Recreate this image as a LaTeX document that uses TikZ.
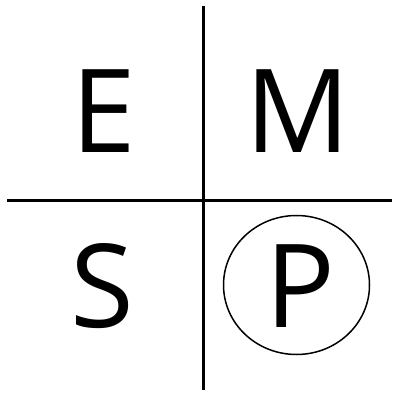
\documentclass[tikz,border=0pt]{standalone}
\usepackage{fontspec}
\setmainfont{Open Sans}
\usetikzlibrary{shapes.geometric}
\begin{document}
\begin{tikzpicture}[x=1pt,y=-1pt,
  letter/.style={inner sep=0pt, text depth=0pt, font=\fontsize{116}{116}\selectfont},
  divider/.style={line width=3pt, black}]
\useasboundingbox (0,0) rectangle (392,393);
\fill[white] (0,0) rectangle (392,393);
\coordinate (vt) at (203,6);
\coordinate (vb) at (203,390);
\coordinate (hl) at (7,200);
\coordinate (hr) at (392,200);
\draw[divider] (vt) -- (vb);
\draw[divider] (hl) -- (hr);
\node[letter] (E) at (104,111.5) {E};
\node[letter] (M) at (297.5,111.5) {M};
\node[letter] (S) at (102,285.5) {S};
\node[letter] (P) at (300,286) {P};
\node[draw, line width=1.5pt, ellipse, inner sep=0pt, minimum width=146pt, minimum height=139pt] (ring) at (296.5,285) {};
\end{tikzpicture}
\end{document}
